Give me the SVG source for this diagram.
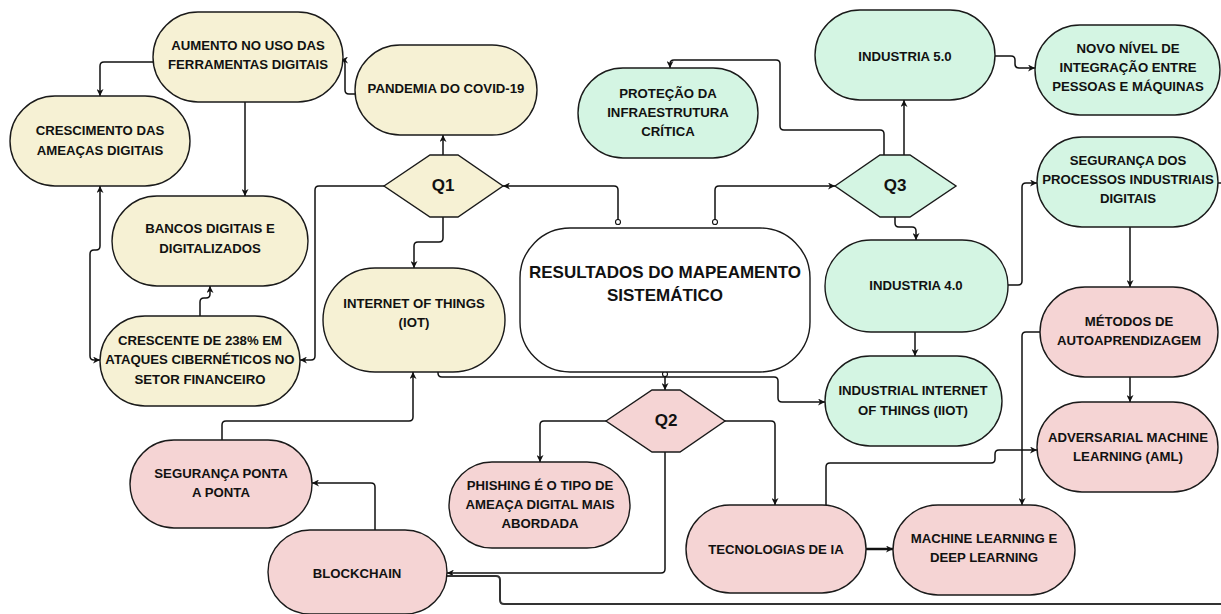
<svg xmlns="http://www.w3.org/2000/svg" width="1221" height="614" viewBox="0 0 1221 614">
<defs>
<style>
.n rect,.n polygon{stroke:#1a1a1a;stroke-width:1.4}
.y rect,.y polygon{fill:#f6f1d4}
.g rect,.g polygon{fill:#d4f5e3}
.p rect,.p polygon{fill:#f5d4d4}
.m rect{fill:#ffffff}
text{font-family:"Liberation Sans",Arial,Helvetica,sans-serif;font-weight:bold;font-size:13.2px;fill:#111;text-anchor:middle}
.big{font-size:17px}
#edges path{fill:none;stroke:#111;stroke-width:1.5;stroke-linejoin:round}
#edges path.a{marker-end:url(#arr)}
#edges path.b{marker-start:url(#arrs);marker-end:url(#arr)}
#edges path.c{marker-start:url(#circ);marker-end:url(#arr)}
</style>
<marker id="arr" viewBox="0 0 10 10" refX="10" refY="5" markerWidth="7" markerHeight="7" markerUnits="userSpaceOnUse" orient="auto"><path d="M0,0 L10,5 L0,10 L3,5 z" fill="#111"/></marker>
<marker id="arrs" viewBox="0 0 10 10" refX="10" refY="5" markerWidth="7" markerHeight="7" markerUnits="userSpaceOnUse" orient="auto-start-reverse"><path d="M0,0 L10,5 L0,10 L3,5 z" fill="#111"/></marker>
<marker id="circ" viewBox="0 0 10 10" refX="5" refY="5" markerWidth="7" markerHeight="7" markerUnits="userSpaceOnUse" orient="auto"><circle cx="5" cy="5" r="3.6" fill="#fff" stroke="#111" stroke-width="1.6"/></marker>
</defs>
<rect x="0" y="0" width="1221" height="614" fill="#ffffff"/>

<g id="edges">
<path class="a" d="M355,94 H349 Q345,94 345,90 V64 Q345,60 341,60"/>
<path class="a" d="M153,62 H104 Q100,62 100,66 V96"/>
<path class="a" d="M245,102 V196"/>
<path class="a" d="M200,316 V302 Q200,298 204,298 H206 Q210,298 210,294 V286"/>
<path class="b" d="M100,186 V246 Q100,250 96,250 H94 Q90,250 90,254 V356 Q90,360 94,360 H100"/>
<path class="a" d="M384,186 H319 Q315,186 315,190 V356 Q315,360 311,360 H300"/>
<path class="a" d="M443,155 V135"/>
<path class="a" d="M443,217 V238 Q443,242 439,242 H418 Q414,242 414,246 V268"/>
<path class="c" d="M618,222 V190 Q618,186 614,186 H503"/>
<path class="c" d="M715,222 V190 Q715,186 719,186 H835"/>
<path class="c" d="M665,374 V390"/>
<path class="a" d="M904,155 V100"/>
<path class="a" d="M884,155 V134 Q884,130 880,130 H784 Q780,130 780,126 V64 Q780,60 776,60 H674 Q670,60 670,64 V68"/>
<path class="a" d="M995,56 H1011 Q1015,56 1015,60 V64 Q1015,68 1019,68 H1035"/>
<path class="a" d="M895,217 V223 Q895,227 899,227 H912 Q916,227 916,231 V240"/>
<path class="a" d="M1008,285 H1018 Q1022,285 1022,281 V187 Q1022,183 1026,183 H1037"/>
<path d="M1218,183 H1221"/>
<path class="a" d="M915,332 V356"/>
<path class="a" d="M438,372 V373 Q438,377 442,377 H774 Q778,377 778,381 V398 Q778,402 782,402 H825"/>
<path class="a" d="M1130,227 V287"/>
<path class="a" d="M1130,377 V402"/>
<path class="a" d="M1040,332 H1026 Q1022,332 1022,336 V505"/>
<path class="a" d="M826,505 V467 Q826,463 830,463 H991 Q995,463 995,459 V454 Q995,450 999,450 H1037"/>
<path class="a" d="M866,549 H893" style="stroke-width:2.5"/>
<path class="a" d="M606,421 H544 Q540,421 540,425 V462"/>
<path class="a" d="M725,421 H771 Q775,421 775,425 V505"/>
<path class="a" d="M665,452 V569 Q665,573 661,573 H447"/>
<path class="a" d="M375,530 V487 Q375,483 371,483 H312"/>
<path class="a" d="M222,440 V425 Q222,421 226,421 H409 Q413,421 413,417 V372"/>
<path d="M447,576 H496 Q500,576 500,580 V600 Q500,604 504,604 H1221" style="stroke-width:2;stroke:#333"/>
</g>

<g id="n-aumento" class="n y"><rect x="153" y="12" width="190" height="90" rx="45"/><text x="248" y="50">AUMENTO NO USO DAS</text><text x="248" y="69">FERRAMENTAS DIGITAIS</text></g>
<g id="n-pandemia" class="n y"><rect x="355" y="45" width="182" height="90" rx="45"/><text x="446" y="93">PANDEMIA DO COVID-19</text></g>
<g id="n-crescimento" class="n y"><rect x="10" y="96" width="180" height="90" rx="45"/><text x="100" y="135">CRESCIMENTO DAS</text><text x="100" y="155">AMEAÇAS DIGITAIS</text></g>
<g id="n-bancos" class="n y"><rect x="112" y="196" width="196" height="90" rx="45"/><text x="210" y="233">BANCOS DIGITAIS E</text><text x="210" y="253">DIGITALIZADOS</text></g>
<g id="n-crescente" class="n y"><rect x="100" y="316" width="200" height="90" rx="45"/><text x="200" y="345">CRESCENTE DE 238% EM</text><text x="200" y="364">ATAQUES CIBERNÉTICOS NO</text><text x="200" y="384">SETOR FINANCEIRO</text></g>
<g id="n-q1" class="n y"><polygon points="384,186 430,155 458,155 503,186 458,217 430,217"/><text class="big" x="443" y="191">Q1</text></g>
<g id="n-iot" class="n y"><rect x="323" y="268" width="182" height="104" rx="52"/><text x="414" y="308">INTERNET OF THINGS</text><text x="414" y="327">(IOT)</text></g>

<g id="n-resultados" class="n m"><rect x="520" y="228" width="290" height="144" rx="50"/><text class="big" x="665" y="278">RESULTADOS DO MAPEAMENTO</text><text class="big" x="665" y="301">SISTEMÁTICO</text></g>

<g id="n-protecao" class="n g"><rect x="578" y="68" width="180" height="90" rx="45"/><text x="668" y="98">PROTEÇÃO DA</text><text x="668" y="117">INFRAESTRUTURA</text><text x="668" y="136">CRÍTICA</text></g>
<g id="n-ind50" class="n g"><rect x="815" y="10" width="180" height="90" rx="45"/><text x="905" y="61">INDUSTRIA 5.0</text></g>
<g id="n-novo" class="n g"><rect x="1035" y="25" width="185" height="90" rx="45"/><text x="1128" y="53">NOVO NÍVEL DE</text><text x="1128" y="72">INTEGRAÇÃO ENTRE</text><text x="1128" y="91">PESSOAS E MÁQUINAS</text></g>
<g id="n-q3" class="n g"><polygon points="835,186 880,155 910,155 956,186 910,217 880,217"/><text class="big" x="895" y="191">Q3</text></g>
<g id="n-seguranca-proc" class="n g"><rect x="1037" y="137" width="181" height="90" rx="45"/><text x="1128" y="165">SEGURANÇA DOS</text><text x="1128" y="184">PROCESSOS INDUSTRIAIS</text><text x="1128" y="203">DIGITAIS</text></g>
<g id="n-ind40" class="n g"><rect x="825" y="240" width="183" height="92" rx="46"/><text x="916" y="290">INDUSTRIA 4.0</text></g>
<g id="n-iiot" class="n g"><rect x="825" y="356" width="177" height="90" rx="45"/><text x="913" y="395">INDUSTRIAL INTERNET</text><text x="913" y="415">OF THINGS (IIOT)</text></g>

<g id="n-metodos" class="n p"><rect x="1040" y="287" width="178" height="90" rx="45"/><text x="1129" y="326">MÉTODOS DE</text><text x="1129" y="345">AUTOAPRENDIZAGEM</text></g>
<g id="n-aml" class="n p"><rect x="1037" y="402" width="181" height="90" rx="45"/><text x="1128" y="442">ADVERSARIAL MACHINE</text><text x="1128" y="461">LEARNING (AML)</text></g>
<g id="n-q2" class="n p"><polygon points="606,421 652,390 680,390 725,421 680,452 652,452"/><text class="big" x="666" y="426">Q2</text></g>
<g id="n-phishing" class="n p"><rect x="449" y="462" width="181" height="86" rx="43"/><text x="540" y="490">PHISHING É O TIPO DE</text><text x="540" y="509">AMEAÇA DIGITAL MAIS</text><text x="540" y="528">ABORDADA</text></g>
<g id="n-seg-ponta" class="n p"><rect x="130" y="440" width="182" height="88" rx="44"/><text x="221" y="478">SEGURANÇA PONTA</text><text x="221" y="497">A PONTA</text></g>
<g id="n-blockchain" class="n p"><rect x="268" y="530" width="179" height="84" rx="42"/><text x="357" y="578">BLOCKCHAIN</text></g>
<g id="n-tecnologias" class="n p"><rect x="686" y="505" width="180" height="88" rx="44"/><text x="776" y="554">TECNOLOGIAS DE IA</text></g>
<g id="n-ml" class="n p"><rect x="893" y="505" width="182" height="90" rx="45"/><text x="984" y="543">MACHINE LEARNING E</text><text x="984" y="562">DEEP LEARNING</text></g>
</svg>
